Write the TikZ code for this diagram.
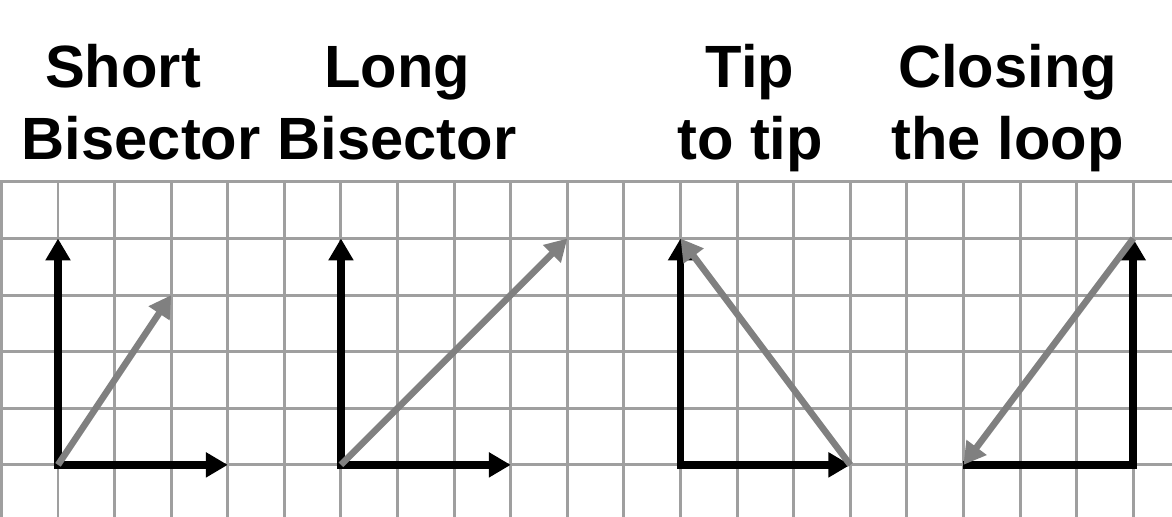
\documentclass[tikz,border=0pt]{standalone}
\usepackage{fontspec}
\setmainfont{Liberation Sans}
\usetikzlibrary{arrows.meta}

\tikzset{
  gridline/.style={gray!75,line width=1.5pt},
  vec/.style={line width=4pt,black},
  gvec/.style={line width=3.3pt,gray},
  title/.style={font=\bfseries\fontsize{30}{36.6}\selectfont,align=center,anchor=base}
}

\begin{document}
\begin{tikzpicture}[>={Triangle[length=11pt,width=12pt]}]
  \useasboundingbox (-1.025,-0.92) rectangle (19.685,8.215);
  \draw[gridline] (-1.025,-0.92) grid (19.685,5);
  % panel corners and tips
  \coordinate (A) at (0,0);  \coordinate (B) at (0,4);
  \coordinate (C) at (3,0);  \coordinate (D) at (2,3);
  \coordinate (E) at (5,0);  \coordinate (F) at (5,4);
  \coordinate (G) at (8,0);  \coordinate (H) at (9,4);
  \coordinate (I) at (11,0); \coordinate (J) at (11,4);
  \coordinate (K) at (14,0);
  \coordinate (L) at (16,0); \coordinate (M) at (19,0);
  \coordinate (N) at (19,4);
  \draw[vec,<->] (B)--(A)--(C);
  \draw[vec,<->] (F)--(E)--(G);
  \draw[vec,<->] (J)--(I)--(K);
  \draw[vec,->] (L)--(M)--(N);
  \draw[gvec,->] (A)--(D);
  \draw[gvec,->] (E)--(H);
  \draw[gvec,->] (K)--(J);
  \draw[gvec,->] (N)--(L);
  \node[title] (t1) at (1.47,5.39) {Short\hphantom{n}\\Bisector};
  \node[title] (t2) at (5.99,5.39) {Long\\Bisector};
  \node[title] (t3) at (12.23,5.39) {Tip\\to tip};
  \node[title] (t4) at (16.78,5.39) {Closing\\the loop};
\end{tikzpicture}
\end{document}
